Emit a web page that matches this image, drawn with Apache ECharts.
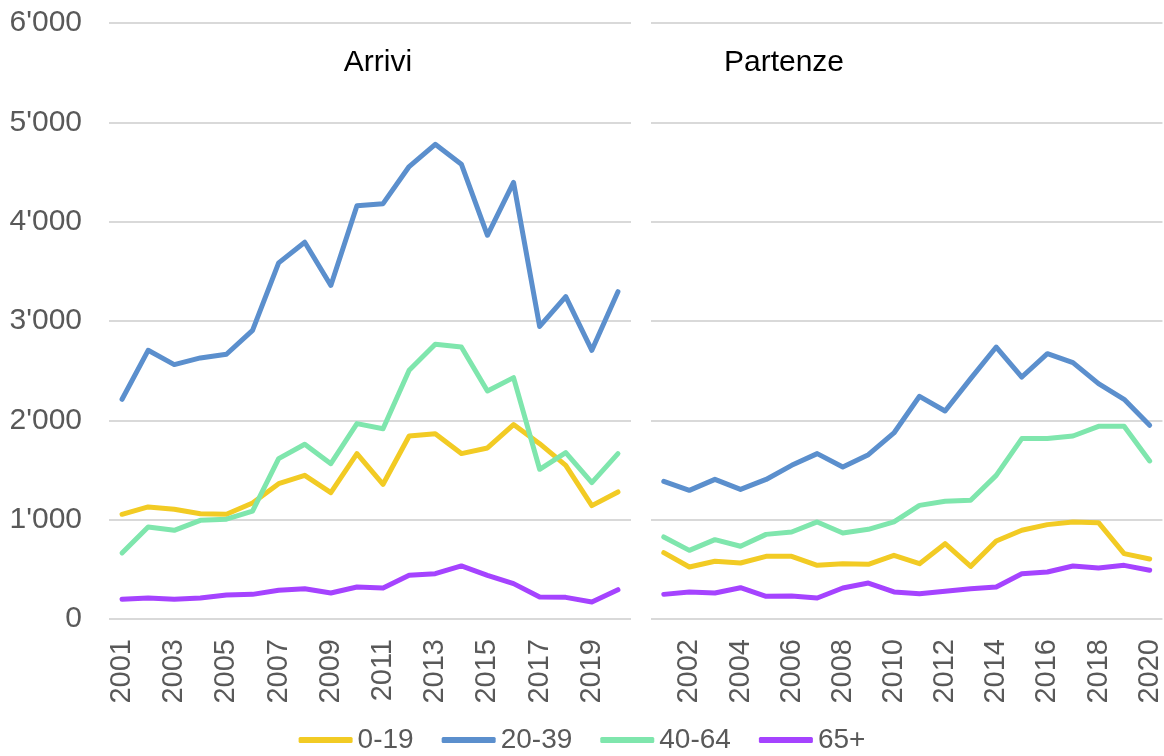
<!DOCTYPE html>
<html>
<head>
<meta charset="utf-8">
<script src="https://cdn.jsdelivr.net/npm/echarts@6/dist/echarts.min.js"></script>
<style>
  html, body { margin: 0; padding: 0; background: #fff; }
  #chart { width: 1164px; height: 756px; }
</style>
</head>
<body>
<div id="chart"></div>
<script>
// anni
const years = ['2001', '2002', '2003', '2004', '2005', '2006', '2007', '2008', '2009', '2010',
  '2011', '2012', '2013', '2014', '2015', '2016', '2017', '2018', '2019', '2020']
const ageGroups = ['0-19', '20-39', '40-64', '65+']
const panelTitles = ['Arrivi', 'Partenze']
const yTicks = [0, 1000, 2000, 3000, 4000, 5000, 6000]

// Arrivi
const arr019 = [1054, 1128, 1104, 1060, 1054, 1168, 1362, 1446, 1272, 1665, 1356, 1842, 1866, 1665, 1722, 1957, 1765, 1547, 1141, 1279]
const arr2039 = [2212, 2705, 2561, 2628, 2665, 2906, 3585, 3793, 3358, 4161, 4181, 4555, 4779, 4579, 3863, 4395, 2945, 3245, 2705, 3295]
const arr4064 = [665, 926, 893, 993, 1005, 1087, 1614, 1759, 1564, 1967, 1916, 2504, 2765, 2738, 2296, 2430, 1507, 1675, 1373, 1665]
const arr65 = [198, 211, 198, 211, 242, 248, 289, 305, 262, 322, 312, 440, 456, 534, 440, 356, 221, 218, 171, 295]

// Partenze
const par019 = [668, 524, 581, 564, 631, 631, 540, 557, 550, 641, 557, 758, 530, 785, 893, 950, 977, 970, 658, 604]
const par2039 = [1386, 1295, 1406, 1305, 1405, 1547, 1665, 1530, 1654, 1873, 2242, 2094, 2420, 2738, 2436, 2671, 2581, 2369, 2212, 1950]
const par4064 = [826, 691, 799, 732, 852, 876, 977, 866, 903, 977, 1144, 1185, 1195, 1446, 1816, 1816, 1842, 1940, 1940, 1591]
const par65 = [248, 272, 262, 315, 228, 232, 211, 312, 362, 272, 255, 279, 305, 322, 456, 473, 534, 513, 540, 490]

const colors = ['#F2CB24', '#5B8FCD', '#7FE6AD', '#A543FF']
const fontFam = '"Liberation Sans", Arial, sans-serif'
const labelColor = '#595959'

function fmt (v) {
  // separatore delle migliaia con apostrofo
  return String(v).replace(/\B(?=(\d{3})+(?!\d))/g, "'")
}

function xAxisFor (gi, showOdd) {
  return {
    type: 'category',
    gridIndex: gi,
    data: years,
    boundaryGap: true,
    axisLine: { show: false },
    axisTick: { show: false },
    axisLabel: {
      rotate: 90,
      margin: 20,
      color: labelColor,
      fontSize: 29,
      fontFamily: fontFam,
      interval: function (idx) {
        return showOdd ? idx % 2 === 0 : idx % 2 === 1
      }
    }
  }
}

function yAxisFor (gi, showLabels) {
  return {
    type: 'value',
    gridIndex: gi,
    min: yTicks[0],
    max: yTicks[yTicks.length - 1],
    interval: 1000,
    axisLine: { show: false },
    axisTick: { show: false },
    splitLine: { lineStyle: { color: '#D9D9D9', width: 2 } },
    axisLabel: {
      show: showLabels,
      margin: 27,
      color: labelColor,
      fontSize: 30,
      fontFamily: fontFam,
      formatter: fmt
    }
  }
}

function lineSeries (name, data, idx) {
  return {
    name: name,
    type: 'line',
    xAxisIndex: idx,
    yAxisIndex: idx,
    data: data,
    symbol: 'none',
    lineStyle: { width: 5, join: 'round', cap: 'round' },
    emphasis: { disabled: true }
  }
}

const chart = echarts.init(document.getElementById('chart'), null, { renderer: 'canvas' })
chart.setOption({
  animation: false,
  color: colors,
  textStyle: { fontFamily: fontFam },
  title: [
    { text: panelTitles[0], left: 373, top: 43, textAlign: 'center', textStyle: { fontSize: 30, fontWeight: 'normal', color: '#000' } },
    { text: panelTitles[1], left: 779, top: 43, textAlign: 'center', textStyle: { fontSize: 30, fontWeight: 'normal', color: '#000' } }
  ],
  legend: {
    data: ageGroups,
    bottom: -3,
    left: 'center',
    icon: 'roundRect',
    itemWidth: 54,
    itemHeight: 6,
    itemGap: 28,
    textStyle: { color: labelColor, fontSize: 28, fontFamily: fontFam }
  },
  grid: [
    { left: 109, width: 522, top: 23, height: 596 },
    { left: 651, width: 518, top: 23, height: 596 }
  ],
  xAxis: [xAxisFor(0, true), xAxisFor(1, false)],
  yAxis: [yAxisFor(0, true), yAxisFor(1, false)],
  series: [
    lineSeries(ageGroups[0], arr019, 0),
    lineSeries(ageGroups[1], arr2039, 0),
    lineSeries(ageGroups[2], arr4064, 0),
    lineSeries(ageGroups[3], arr65, 0),
    lineSeries(ageGroups[0], par019, 1),
    lineSeries(ageGroups[1], par2039, 1),
    lineSeries(ageGroups[2], par4064, 1),
    lineSeries(ageGroups[3], par65, 1)
  ]
})
</script>
</body>
</html>
